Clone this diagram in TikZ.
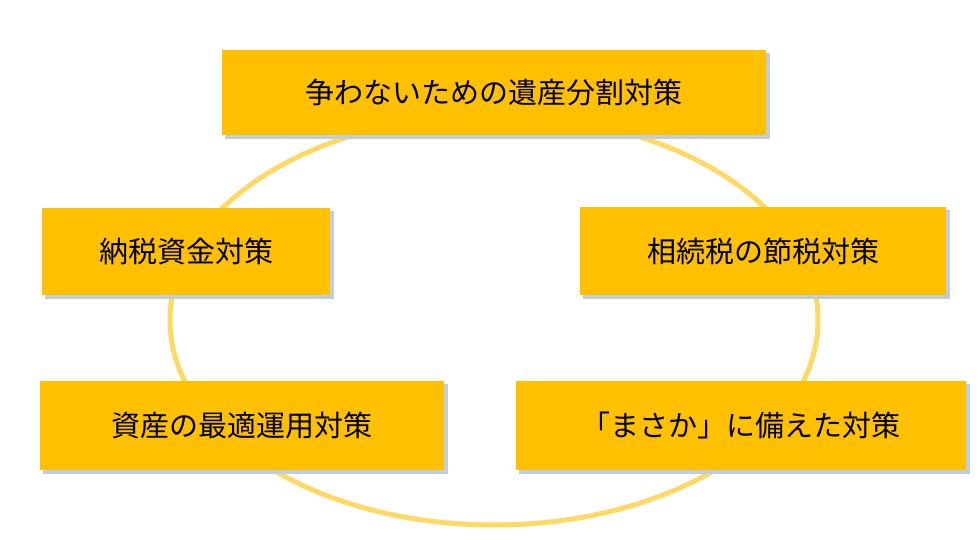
\documentclass[tikz,border=0pt]{standalone}
\usepackage{fontspec}
\setmainfont{Noto Sans CJK JP}
\definecolor{gold}{RGB}{255,192,0}
\definecolor{ring}{RGB}{255,217,102}
\definecolor{shad}{RGB}{190,205,225}
\begin{document}
\begin{tikzpicture}[x=1pt,y=-1pt,
  boxst/.style={draw=none,inner sep=0pt,font=\fontsize{29}{32}\selectfont}]
\useasboundingbox (0,0) rectangle (980,540);
\draw[ring,line width=5pt] (494,320) ellipse [x radius=324, y radius=205];
\foreach \n/\a/\b/\c/\d/\t in {
  top/222/50/766/135/{争わないための遺産分割対策},
  lm/42/208/330/295/{納税資金対策},
  rm/580/207/946/295/{相続税の節税対策},
  lb/40/381/444/470/{資産の最適運用対策},
  rb/516/381/966/470/{「まさか」に備えた対策}}{
  \fill[shad] (\a+3,\b+3) rectangle (\c+4,\d+4);
  \fill[gold] (\a,\b) rectangle (\c,\d);
  \node[boxst] (\n) at ({(\a+\c)/2},{(\b+\d)/2}) {\t};
}
\end{tikzpicture}
\end{document}
